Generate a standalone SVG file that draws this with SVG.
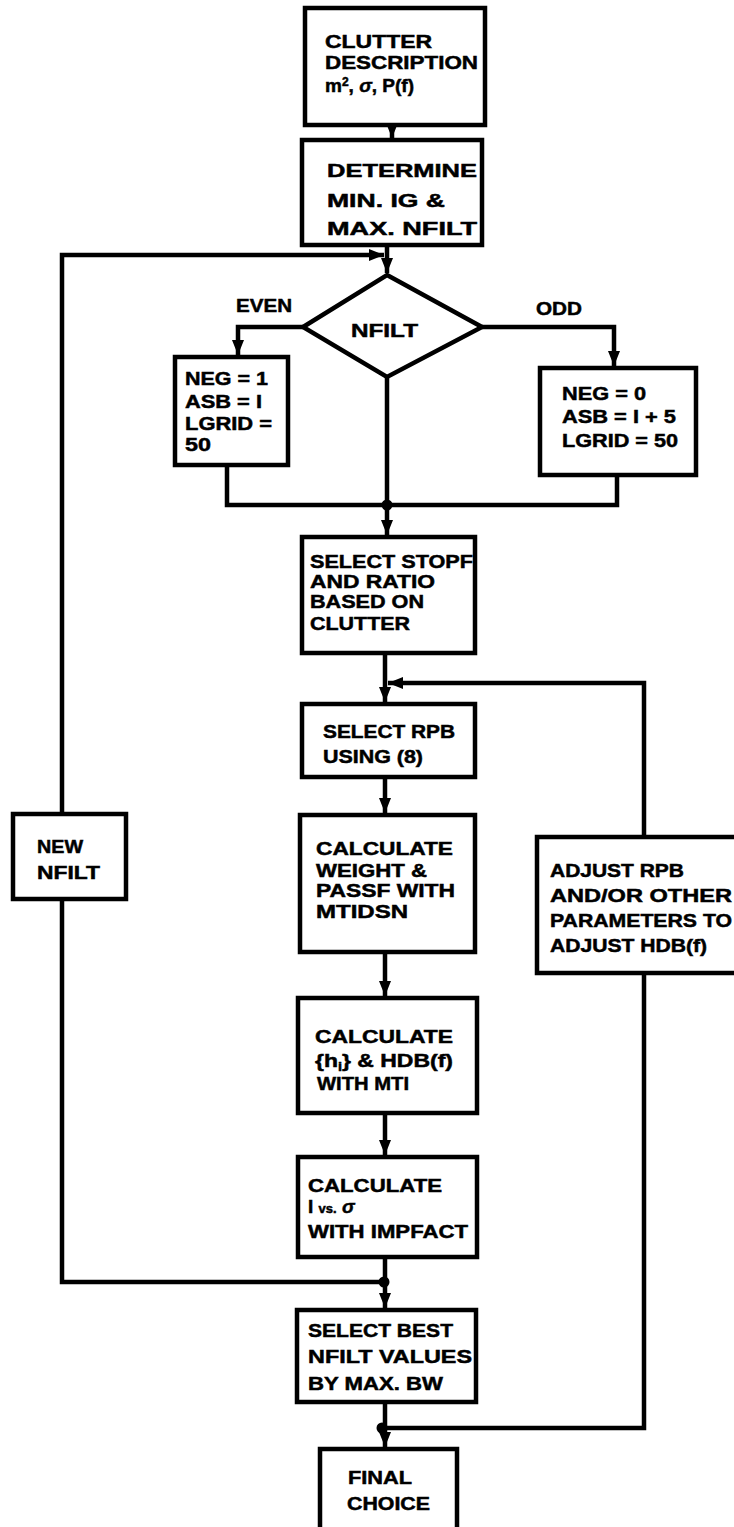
<svg xmlns="http://www.w3.org/2000/svg" width="734" height="1527" viewBox="0 0 734 1527">
<style>
.box{fill:#fff;stroke:#000;stroke-width:4.5}
.ln{fill:none;stroke:#000;stroke-width:4.5}
.t{font-family:"Liberation Sans",Arial,sans-serif;font-weight:bold;font-size:19px;fill:#000;stroke:#000;stroke-width:0.5}
</style>
<defs>
<marker id="ah" markerUnits="userSpaceOnUse" markerWidth="16" markerHeight="12" refX="15" refY="6" orient="auto">
<path d="M0,0 L15,6 L0,12 z" fill="#000"/>
</marker>
</defs>
<rect width="734" height="1527" fill="#fff"/>
<g id="connectors">
<path class="ln" d="M392,125 V138" marker-end="url(#ah)"/>
<path class="ln" d="M387,245 V273" marker-end="url(#ah)"/>
<path class="ln" d="M385,1282 H62 V255 H384" marker-end="url(#ah)"/>
<path class="ln" d="M303,327 H238 V355" marker-end="url(#ah)"/>
<path class="ln" d="M482,327 H614 V366" marker-end="url(#ah)"/>
<path class="ln" d="M387,377 V535" marker-end="url(#ah)"/>
<path class="ln" d="M227,465 V505 H617 V475"/>
<path class="ln" d="M385,653 V702" marker-end="url(#ah)"/>
<path class="ln" d="M385,1428 H644 V683 H388" marker-end="url(#ah)"/>
<path class="ln" d="M385,777 V813" marker-end="url(#ah)"/>
<path class="ln" d="M385,952 V996" marker-end="url(#ah)"/>
<path class="ln" d="M385,1113 V1155" marker-end="url(#ah)"/>
<path class="ln" d="M385,1257 V1308" marker-end="url(#ah)"/>
<path class="ln" d="M385,1402 V1447" marker-end="url(#ah)"/>
<circle cx="387" cy="505" r="5.5" fill="#000"/>
<circle cx="384" cy="1282" r="5.5" fill="#000"/>
<circle cx="382" cy="1428" r="5.5" fill="#000"/>
</g>
<g id="clutter">
<rect class="box" x="305" y="8" width="180" height="117"/>
<text class="t" x="325" y="48" textLength="107" lengthAdjust="spacingAndGlyphs">CLUTTER</text>
<text class="t" x="325" y="69" textLength="153" lengthAdjust="spacingAndGlyphs">DESCRIPTION</text>
<text class="t" x="325" y="92">m<tspan dy="-6" font-size="12">2</tspan><tspan dy="6">, </tspan><tspan font-style="italic">σ</tspan>, P(f)</text>
</g>
<g id="determine">
<rect class="box" x="302" y="140" width="180" height="105"/>
<text class="t" x="327" y="177" textLength="150" lengthAdjust="spacingAndGlyphs">DETERMINE</text>
<text class="t" x="327" y="207" textLength="118" lengthAdjust="spacingAndGlyphs">MIN. IG &amp;</text>
<text class="t" x="327" y="235" textLength="150" lengthAdjust="spacingAndGlyphs">MAX. NFILT</text>
</g>
<g id="decision">
<path class="box" d="M387,275 L482,327 L387,377 L303,327 z"/>
<text class="t" x="351" y="337" textLength="67" lengthAdjust="spacingAndGlyphs">NFILT</text>
</g>
<g id="labels">
<text class="t" x="236" y="312" textLength="56" lengthAdjust="spacingAndGlyphs">EVEN</text>
<text class="t" x="536" y="315" textLength="46" lengthAdjust="spacingAndGlyphs">ODD</text>
</g>
<g id="even">
<rect class="box" x="175" y="357" width="113" height="108"/>
<text class="t" x="185" y="385" textLength="83" lengthAdjust="spacingAndGlyphs">NEG = 1</text>
<text class="t" x="185" y="408" textLength="77" lengthAdjust="spacingAndGlyphs">ASB = I</text>
<text class="t" x="185" y="430" textLength="87" lengthAdjust="spacingAndGlyphs">LGRID =</text>
<text class="t" x="185" y="451" textLength="26" lengthAdjust="spacingAndGlyphs">50</text>
</g>
<g id="odd">
<rect class="box" x="540" y="368" width="156" height="107"/>
<text class="t" x="562" y="400" textLength="84" lengthAdjust="spacingAndGlyphs">NEG = 0</text>
<text class="t" x="562" y="423" textLength="114" lengthAdjust="spacingAndGlyphs">ASB = I + 5</text>
<text class="t" x="562" y="447" textLength="116" lengthAdjust="spacingAndGlyphs">LGRID = 50</text>
</g>
<g id="stopf">
<rect class="box" x="302" y="537" width="173" height="116"/>
<text class="t" x="310" y="568" textLength="163" lengthAdjust="spacingAndGlyphs">SELECT STOPF</text>
<text class="t" x="310" y="588" textLength="125" lengthAdjust="spacingAndGlyphs">AND RATIO</text>
<text class="t" x="310" y="608" textLength="114" lengthAdjust="spacingAndGlyphs">BASED ON</text>
<text class="t" x="310" y="630" textLength="100" lengthAdjust="spacingAndGlyphs">CLUTTER</text>
</g>
<g id="rpb">
<rect class="box" x="302" y="704" width="173" height="73"/>
<text class="t" x="323" y="738" textLength="132" lengthAdjust="spacingAndGlyphs">SELECT RPB</text>
<text class="t" x="323" y="763" textLength="100" lengthAdjust="spacingAndGlyphs">USING (8)</text>
</g>
<g id="weight">
<rect class="box" x="300" y="815" width="175" height="137"/>
<text class="t" x="316" y="855" textLength="137" lengthAdjust="spacingAndGlyphs">CALCULATE</text>
<text class="t" x="316" y="877" textLength="111" lengthAdjust="spacingAndGlyphs">WEIGHT &amp;</text>
<text class="t" x="316" y="897" textLength="139" lengthAdjust="spacingAndGlyphs">PASSF WITH</text>
<text class="t" x="316" y="918" textLength="92" lengthAdjust="spacingAndGlyphs">MTIDSN</text>
</g>
<g id="hdb">
<rect class="box" x="298" y="998" width="179" height="115"/>
<text class="t" x="315" y="1043" textLength="138" lengthAdjust="spacingAndGlyphs">CALCULATE</text>
<text class="t" x="315" y="1067" textLength="138" lengthAdjust="spacingAndGlyphs">{h<tspan dy="4" font-size="12">i</tspan><tspan dy="-4">} &amp; HDB(f)</tspan></text>
<text class="t" x="317" y="1090" textLength="92" lengthAdjust="spacingAndGlyphs">WITH MTI</text>
</g>
<g id="impfact">
<rect class="box" x="298" y="1157" width="179" height="100"/>
<text class="t" x="308" y="1192" textLength="134" lengthAdjust="spacingAndGlyphs">CALCULATE</text>
<text class="t" x="308" y="1213">I <tspan font-size="13">vs.</tspan> <tspan font-style="italic">σ</tspan></text>
<text class="t" x="308" y="1238" textLength="160" lengthAdjust="spacingAndGlyphs">WITH IMPFACT</text>
</g>
<g id="best">
<rect class="box" x="297" y="1310" width="179" height="92"/>
<text class="t" x="308" y="1337" textLength="145" lengthAdjust="spacingAndGlyphs">SELECT BEST</text>
<text class="t" x="308" y="1363" textLength="164" lengthAdjust="spacingAndGlyphs">NFILT VALUES</text>
<text class="t" x="308" y="1390" textLength="135" lengthAdjust="spacingAndGlyphs">BY MAX. BW</text>
</g>
<g id="final">
<rect class="box" x="320" y="1449" width="137" height="90"/>
<text class="t" x="348" y="1484" textLength="64" lengthAdjust="spacingAndGlyphs">FINAL</text>
<text class="t" x="347" y="1510" textLength="83" lengthAdjust="spacingAndGlyphs">CHOICE</text>
</g>
<g id="newnfilt">
<rect class="box" x="13" y="814" width="113" height="85"/>
<text class="t" x="37" y="853" textLength="46" lengthAdjust="spacingAndGlyphs">NEW</text>
<text class="t" x="37" y="879" textLength="63" lengthAdjust="spacingAndGlyphs">NFILT</text>
</g>
<g id="adjust">
<rect class="box" x="537" y="837" width="205" height="136"/>
<text class="t" x="550" y="877" textLength="134" lengthAdjust="spacingAndGlyphs">ADJUST RPB</text>
<text class="t" x="550" y="902" textLength="182" lengthAdjust="spacingAndGlyphs">AND/OR OTHER</text>
<text class="t" x="550" y="927" textLength="182" lengthAdjust="spacingAndGlyphs">PARAMETERS TO</text>
<text class="t" x="550" y="952" textLength="157" lengthAdjust="spacingAndGlyphs">ADJUST HDB(f)</text>
</g>
</svg>
